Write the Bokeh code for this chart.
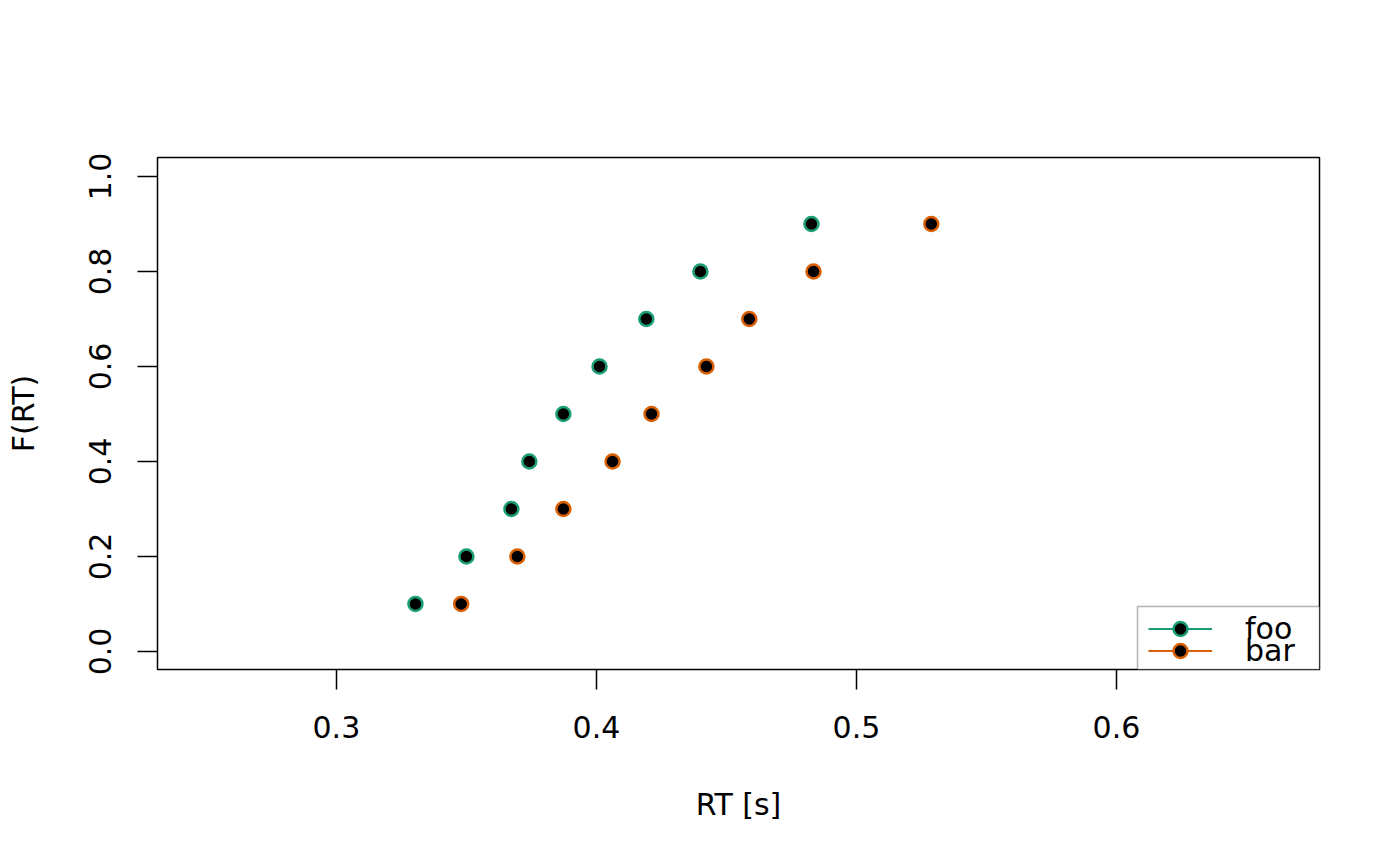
import numpy as np
from bokeh.plotting import figure
from bokeh.models import (Range1d, FixedTicker, PrintfTickFormatter, Legend, LegendItem,
                          BoxAnnotation)
from bokeh.embed import file_html
from bokeh.resources import INLINE

# data
probs = [0.1, 0.2, 0.3, 0.4, 0.5, 0.6, 0.7, 0.8, 0.9]
foo_rt = [0.3304, 0.3500, 0.3673, 0.3742, 0.3873, 0.4012, 0.4192, 0.4400, 0.4827]
bar_rt = [0.3480, 0.3696, 0.3873, 0.4062, 0.4212, 0.4423, 0.4588, 0.4835, 0.5288]
x_ticks = [0.3, 0.4, 0.5, 0.6]
y_ticks = [0.0, 0.2, 0.4, 0.6, 0.8, 1.0]
series_names = ["foo", "bar"]
series_colors = ["#1B9E77", "#D95F02"]

FONT = "DejaVu Sans"
FS = "30px"

p = figure(width=1400, height=866, output_backend="svg", toolbar_location=None,
           x_range=Range1d(0.2312, 0.6781), y_range=Range1d(-0.038, 1.04),
           min_border_left=157, min_border_right=81, min_border_top=157, min_border_bottom=197)
p.grid.visible = False
p.outline_line_color = "black"
p.outline_line_width = 1.5
p.background_fill_color = "white"
p.border_fill_color = "white"

for ax in (p.xaxis[0], p.yaxis[0]):
    ax.axis_line_color = None
    ax.major_tick_in = 0
    ax.major_tick_out = 20
    ax.major_tick_line_color = "black"
    ax.major_tick_line_width = 1.5
    ax.minor_tick_line_color = None
    ax.major_label_text_font = FONT
    ax.major_label_text_font_size = FS
    ax.major_label_text_color = "black"
    ax.axis_label_text_font = FONT
    ax.axis_label_text_font_size = FS
    ax.axis_label_text_font_style = "normal"
    ax.axis_label_text_color = "black"
    ax.formatter = PrintfTickFormatter(format="%.1f")

p.xaxis[0].ticker = FixedTicker(ticks=x_ticks)
p.yaxis[0].ticker = FixedTicker(ticks=y_ticks)
p.xaxis[0].axis_label = "RT [s]"
p.yaxis[0].axis_label = "F(RT)"
p.xaxis[0].major_label_standoff = 26
p.xaxis[0].axis_label_standoff = 46
p.yaxis[0].major_label_standoff = 26
p.yaxis[0].major_label_orientation = "vertical"
p.yaxis[0].axis_label_standoff = 46

# legend frame (screen units, from bottom-left of the plot frame)
box = BoxAnnotation(left=980, right=1162, bottom=0, top=63,
                    left_units="screen", right_units="screen",
                    bottom_units="screen", top_units="screen",
                    fill_color="white", fill_alpha=1.0,
                    line_color="black", line_width=1.5)
p.add_layout(box)

legend_pos = [(991, 23), (991, 1)]
for name, col, xs, loc in zip(series_names, series_colors, [foo_rt, bar_rt], legend_pos):
    lr = p.line(x=np.array([np.nan]), y=np.array([np.nan]), line_color=col, line_width=2)
    sr = p.scatter(x=xs, y=probs, marker="circle", size=14, fill_color="black",
                   line_color=col, line_width=2.5)
    lg = Legend(items=[LegendItem(label=name, renderers=[lr, sr])], location=loc,
                margin=0, padding=0, spacing=0,
                glyph_width=64, glyph_height=35, label_standoff=33, label_width=40,
                label_text_font=FONT, label_text_font_size=FS, label_text_color="black",
                border_line_color=None, background_fill_alpha=0.0)
    p.add_layout(lg, "center")

open("out.html", "w").write(file_html(p, INLINE))
